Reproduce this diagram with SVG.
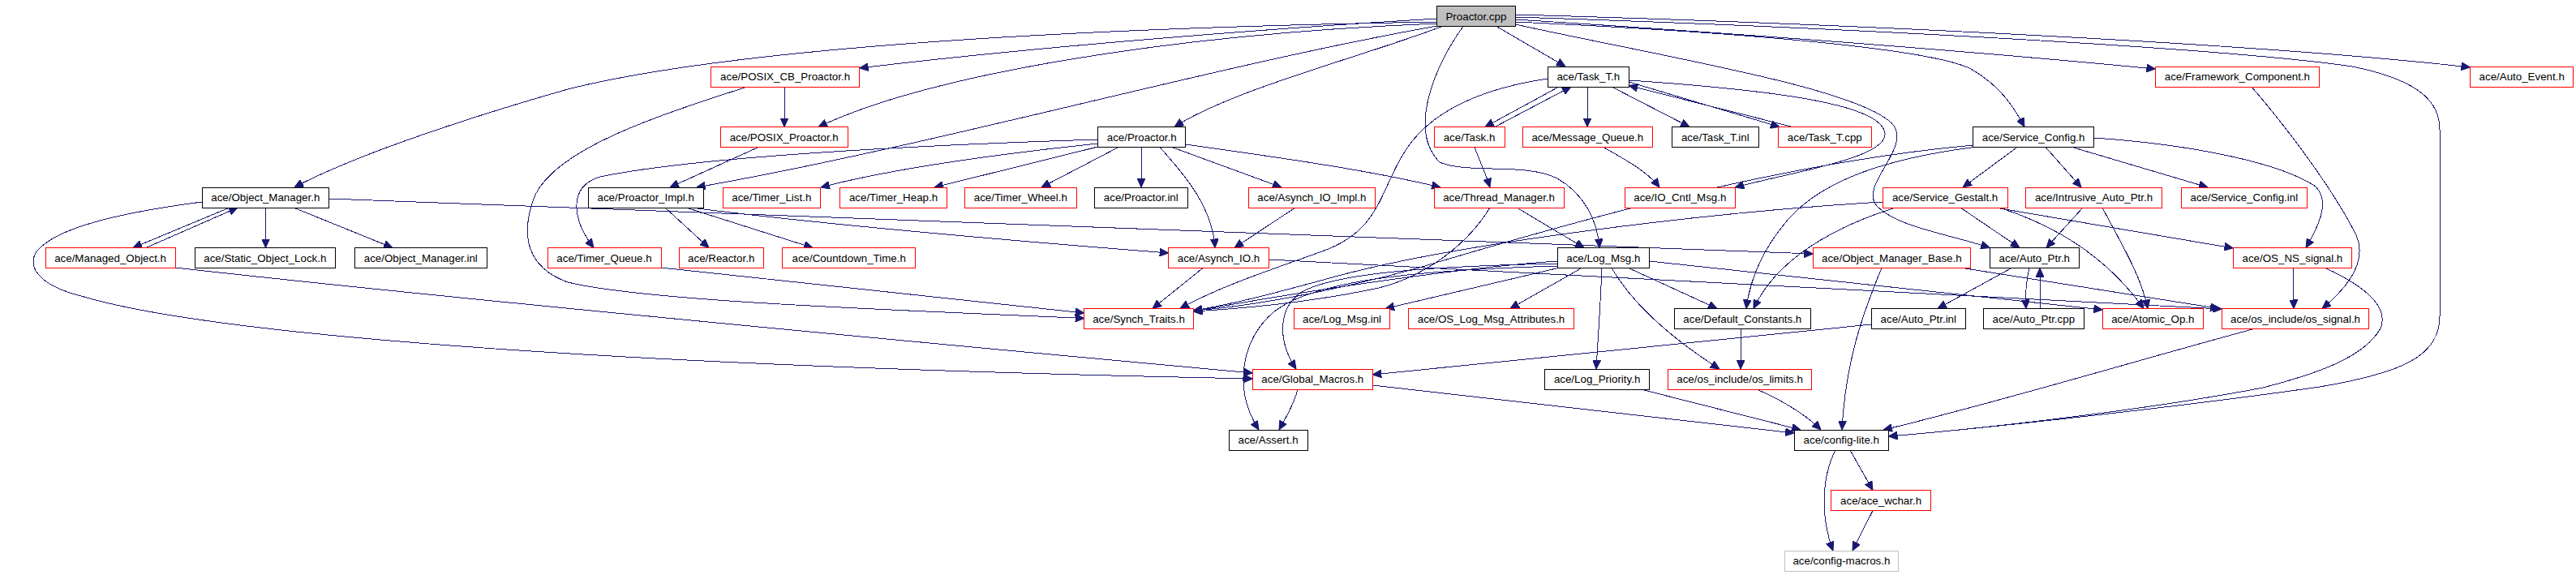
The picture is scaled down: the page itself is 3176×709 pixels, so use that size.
<svg xmlns="http://www.w3.org/2000/svg" width="3176" height="709" viewBox="0 0 3176 709">
<style>
rect{fill:#fff;stroke-width:1;shape-rendering:crispEdges}
.b rect{stroke:#000}
.r rect{stroke:#ff0000}
.g rect{stroke:#bfbfbf}
.root rect{fill:#bfbfbf;stroke:#000}
text{font-family:"Liberation Sans",Arial,Helvetica,sans-serif;font-size:13.33px;text-anchor:middle;fill:#000}
#edges path{fill:none;stroke:#191970;stroke-width:1;shape-rendering:crispEdges;marker-end:url(#ah)}
</style>
<defs>
<marker id="ah" viewBox="0 0 11 10" refX="11" refY="5" markerWidth="11" markerHeight="10" markerUnits="userSpaceOnUse" orient="auto">
<path d="M0,0 L11,5 L0,10 z" fill="#191970" stroke="#191970" stroke-width="1"/>
</marker>
</defs>
<rect x="0" y="0" width="3176" height="709" style="fill:#fff;stroke:none"/>
<g id="edges">
<path d="M1771.4,27 C1300,35 900,60 700,110 C560,150 430,195 363,231"/>
<path d="M1771.4,23 C1600,33 1300,55 1059.7,84"/>
<path d="M1771.4,29 C1450,42 1150,90 1009,156.5"/>
<path d="M1772,32 C1500,80 1150,180 858.7,231"/>
<path d="M1778,32.5 C1680,70 1520,110 1448,156.5"/>
<path d="M1845,32.5 L1930,82"/>
<path d="M1804,32.5 C1770,80 1735,160 1775,200 C1810,215 1880,200 1920,220 C1955,240 1970,275 1972,305.5"/>
<path d="M1868.3,18 C2300,30 2800,55 3045.5,83"/>
<path d="M1868.3,21 C2300,35 2750,60 2900,82 C2990,100 3008,130 3008,160 L3008,390 C3008,440 2960,460 2860,477 C2700,500 2450,528 2328.6,538"/>
<path d="M1868.3,24 C2200,45 2450,65 2657.4,85"/>
<path d="M1868.3,27 C2150,40 2380,60 2430,85 C2465,105 2482,130 2496,156.5"/>
<path d="M1868.3,30 C2050,70 2300,110 2335,155 C2355,185 2290,230 2315,255 C2340,280 2400,288 2453.3,305.5"/>
<path d="M1922,107 L1831,156.5"/>
<path d="M1843,156.5 L1937,107"/>
<path d="M1957,107 L1957,156.5"/>
<path d="M1987,107 L2083,156.5"/>
<path d="M2008.3,101 L2194,156.5"/>
<path d="M2210,156.5 L2008.3,105.5"/>
<path d="M2008.3,99 C2200,112 2322,130 2324,165 C2326,195 2210,212 2139.3,231"/>
<path d="M1908.3,97 C1820,110 1760,140 1730,190 C1700,240 1700,285 1630,310 C1560,335 1500,355 1455,380.5"/>
<path d="M1818,181.5 C1825,200 1832,215 1837,231"/>
<path d="M1977,181.5 C2000,195 2030,210 2046,231"/>
<path d="M1353.6,172 C1100,180 850,195 740,218 C700,230 705,270 732,305.5"/>
<path d="M1353.6,177 C1230,190 1100,208 1012,231"/>
<path d="M1353.6,181 L1152,231"/>
<path d="M1379,181.5 L1284,231"/>
<path d="M1407,181.5 L1407,231"/>
<path d="M1430,181.5 C1460,215 1495,255 1498,305.5"/>
<path d="M1445,181.5 L1580,231"/>
<path d="M1461.7,178 C1560,192 1680,208 1776,231"/>
<path d="M967,107 L967,156.5"/>
<path d="M921,107 C820,140 690,180 660,240 C640,290 650,330 700,348 C800,372 1100,382 1336.7,392.5"/>
<path d="M935,181.5 L826,231"/>
<path d="M820,256 L874,305.5"/>
<path d="M846,256 L1002,305.5"/>
<path d="M852,256 C1000,275 1250,297 1440.7,312"/>
<path d="M283,256 L164,305.5"/>
<path d="M180,305.5 L293,256"/>
<path d="M327.5,256 L327.5,305.5"/>
<path d="M362,256 L484,305.5"/>
<path d="M249,249 C150,262 70,280 45,310 C30,335 60,355 100,365 C250,410 700,450 1544.4,467"/>
<path d="M405.6,245 L2235.3,313"/>
<path d="M216.3,330 C500,362 1000,410 1544.4,460"/>
<path d="M815,330 L1336.7,386"/>
<path d="M1597,256 L1522,305.5"/>
<path d="M1483,330.5 L1421,380.5"/>
<path d="M1564.3,320 L2739.3,381"/>
<path d="M1870,256 L1953,305.5"/>
<path d="M1837,256 C1810,300 1760,340 1700,355 C1620,372 1540,380 1471.3,384"/>
<path d="M1920.3,322 C1800,330 1600,360 1471.3,384"/>
<path d="M1920.3,325 C1780,328 1650,335 1605,360 C1575,380 1575,420 1598,455"/>
<path d="M1920.3,328 C1750,333 1620,345 1570,385 C1530,420 1520,480 1552,530"/>
<path d="M1921,330.5 L1708,380.5"/>
<path d="M1950,330.5 L1862,380.5"/>
<path d="M1975,330.5 C1973,380 1970,420 1968,455"/>
<path d="M1987,330.5 C2010,370 2050,410 2120,455"/>
<path d="M2008,330.5 L2117,380.5"/>
<path d="M2033.3,322 L2592.3,382"/>
<path d="M2321,249 C2100,262 1800,300 1650,340 C1570,362 1520,375 1471.3,383"/>
<path d="M2417,256 L2490,305.5"/>
<path d="M2460,256 L2753.3,306"/>
<path d="M2465,256 C2540,280 2600,320 2643,380.5"/>
<path d="M2337,256 C2260,280 2190,320 2162,380.5"/>
<path d="M2487,181.5 L2420,231"/>
<path d="M2522,181.5 L2566,231"/>
<path d="M2555,181.5 L2722,231"/>
<path d="M2581.5,170 C2700,178 2810,200 2855,230 C2875,250 2855,285 2843,305.5"/>
<path d="M2434,181.5 C2330,195 2250,220 2205,270 C2175,305 2158,340 2153,380.5"/>
<path d="M2433,179 C2200,200 1950,270 1750,330 C1640,360 1540,378 1471.3,383"/>
<path d="M2568,256 L2523,305.5"/>
<path d="M2592,256 C2615,300 2640,340 2648,380.5"/>
<path d="M2320,330.5 C2295,390 2275,450 2271,530"/>
<path d="M2420,330.5 L2736,380.5"/>
<path d="M2480,330.5 L2389,380.5"/>
<path d="M2502,330.5 C2497,350 2497,365 2498,380.5"/>
<path d="M2515,380.5 C2515,365 2515,350 2515,330.5"/>
<path d="M2307.3,400 L1692.3,462"/>
<path d="M2827,330.5 L2828,380.5"/>
<path d="M2867,330.5 C2920,355 2945,380 2935,405 C2915,440 2860,460 2790,478 C2650,505 2450,528 2328.6,538"/>
<path d="M2776,107 C2830,170 2880,240 2905,290 C2918,320 2900,350 2863,380.5"/>
<path d="M2779,405.5 C2650,440 2450,500 2322,530"/>
<path d="M1600,480 C1595,500 1585,515 1577,530"/>
<path d="M1692.3,475 L2212,534"/>
<path d="M2023,480 L2220,530"/>
<path d="M2166,480 C2200,495 2225,510 2245,530"/>
<path d="M2147,405.5 L2146,455"/>
<path d="M2281,555 L2309,604.5"/>
<path d="M2263,555 C2245,590 2245,640 2260,679"/>
<path d="M2309,629.5 L2284,679"/>
</g>
<g id="pc" class="root"><rect x="1771.4" y="7.5" width="96.9" height="25"/><text x="1819.9" y="24.5">Proactor.cpp</text></g>
<g id="posixcb" class="r"><rect x="876.5" y="82" width="183.2" height="25"/><text x="968.1" y="99">ace/POSIX_CB_Proactor.h</text></g>
<g id="taskt" class="b"><rect x="1908.3" y="82" width="100" height="25"/><text x="1958.3" y="99">ace/Task_T.h</text></g>
<g id="fc" class="r"><rect x="2657.4" y="82" width="202" height="25"/><text x="2758.4" y="99">ace/Framework_Component.h</text></g>
<g id="ae" class="r"><rect x="3045.5" y="82" width="127.3" height="25"/><text x="3109.2" y="99">ace/Auto_Event.h</text></g>
<g id="posixp" class="r"><rect x="888" y="156.5" width="157.4" height="25"/><text x="966.7" y="173.5">ace/POSIX_Proactor.h</text></g>
<g id="proh" class="b"><rect x="1353.6" y="156.5" width="108.1" height="25"/><text x="1407.7" y="173.5">ace/Proactor.h</text></g>
<g id="task" class="r"><rect x="1768" y="156.5" width="87" height="25"/><text x="1811.5" y="173.5">ace/Task.h</text></g>
<g id="mq" class="r"><rect x="1877.3" y="156.5" width="160" height="25"/><text x="1957.3" y="173.5">ace/Message_Queue.h</text></g>
<g id="tasktinl" class="b"><rect x="2061.3" y="156.5" width="107" height="25"/><text x="2114.8" y="173.5">ace/Task_T.inl</text></g>
<g id="tasktcpp" class="r"><rect x="2192.3" y="156.5" width="115" height="25"/><text x="2249.8" y="173.5">ace/Task_T.cpp</text></g>
<g id="sc" class="b"><rect x="2432.7" y="156.5" width="148.8" height="25"/><text x="2507.1" y="173.5">ace/Service_Config.h</text></g>
<g id="om" class="b"><rect x="249" y="231" width="156.6" height="25"/><text x="327.3" y="248">ace/Object_Manager.h</text></g>
<g id="pimpl" class="b"><rect x="725.5" y="231" width="141.5" height="25"/><text x="796.2" y="248">ace/Proactor_Impl.h</text></g>
<g id="tl" class="r"><rect x="891" y="231" width="120.7" height="25"/><text x="951.3" y="248">ace/Timer_List.h</text></g>
<g id="th" class="r"><rect x="1035.7" y="231" width="131.6" height="25"/><text x="1101.5" y="248">ace/Timer_Heap.h</text></g>
<g id="tw" class="r"><rect x="1189" y="231" width="138.6" height="25"/><text x="1258.3" y="248">ace/Timer_Wheel.h</text></g>
<g id="pinl" class="b"><rect x="1349.3" y="231" width="115" height="25"/><text x="1406.8" y="248">ace/Proactor.inl</text></g>
<g id="aioimpl" class="r"><rect x="1539.3" y="231" width="156.2" height="25"/><text x="1617.4" y="248">ace/Asynch_IO_Impl.h</text></g>
<g id="tm" class="r"><rect x="1768" y="231" width="160.3" height="25"/><text x="1848.1" y="248">ace/Thread_Manager.h</text></g>
<g id="ioc" class="r"><rect x="2003.3" y="231" width="136" height="25"/><text x="2071.3" y="248">ace/IO_Cntl_Msg.h</text></g>
<g id="sg" class="r"><rect x="2321" y="231" width="154.3" height="25"/><text x="2398.1" y="248">ace/Service_Gestalt.h</text></g>
<g id="iap" class="r"><rect x="2497.7" y="231" width="167.6" height="25"/><text x="2581.5" y="248">ace/Intrusive_Auto_Ptr.h</text></g>
<g id="scinl" class="r"><rect x="2689.3" y="231" width="155" height="25"/><text x="2766.8" y="248">ace/Service_Config.inl</text></g>
<g id="mo" class="r"><rect x="56" y="305.5" width="160.3" height="25"/><text x="136.1" y="322.5">ace/Managed_Object.h</text></g>
<g id="sol" class="b"><rect x="240.3" y="305.5" width="173" height="25"/><text x="326.8" y="322.5">ace/Static_Object_Lock.h</text></g>
<g id="ominl" class="b"><rect x="437.2" y="305.5" width="163.3" height="25"/><text x="518.8" y="322.5">ace/Object_Manager.inl</text></g>
<g id="tq" class="r"><rect x="675" y="305.5" width="140" height="25"/><text x="745" y="322.5">ace/Timer_Queue.h</text></g>
<g id="reactor" class="r"><rect x="837.2" y="305.5" width="104.1" height="25"/><text x="889.2" y="322.5">ace/Reactor.h</text></g>
<g id="ct" class="r"><rect x="964.8" y="305.5" width="163.8" height="25"/><text x="1046.7" y="322.5">ace/Countdown_Time.h</text></g>
<g id="aio" class="r"><rect x="1440.7" y="305.5" width="123.6" height="25"/><text x="1502.5" y="322.5">ace/Asynch_IO.h</text></g>
<g id="lm" class="b"><rect x="1920.3" y="305.5" width="113" height="25"/><text x="1976.8" y="322.5">ace/Log_Msg.h</text></g>
<g id="omb" class="r"><rect x="2235.3" y="305.5" width="194" height="25"/><text x="2332.3" y="322.5">ace/Object_Manager_Base.h</text></g>
<g id="ap" class="b"><rect x="2453.3" y="305.5" width="110" height="25"/><text x="2508.3" y="322.5">ace/Auto_Ptr.h</text></g>
<g id="osns" class="r"><rect x="2753.3" y="305.5" width="146.2" height="25"/><text x="2826.4" y="322.5">ace/OS_NS_signal.h</text></g>
<g id="st" class="r"><rect x="1336.7" y="380.5" width="134.6" height="25"/><text x="1404" y="397.5">ace/Synch_Traits.h</text></g>
<g id="lminl" class="r"><rect x="1595.7" y="380.5" width="117.6" height="25"/><text x="1654.5" y="397.5">ace/Log_Msg.inl</text></g>
<g id="oslma" class="r"><rect x="1736.7" y="380.5" width="203.6" height="25"/><text x="1838.5" y="397.5">ace/OS_Log_Msg_Attributes.h</text></g>
<g id="dc" class="b"><rect x="2064.3" y="380.5" width="168" height="25"/><text x="2148.3" y="397.5">ace/Default_Constants.h</text></g>
<g id="apinl" class="b"><rect x="2307.3" y="380.5" width="116" height="25"/><text x="2365.3" y="397.5">ace/Auto_Ptr.inl</text></g>
<g id="apcpp" class="b"><rect x="2445.3" y="380.5" width="124" height="25"/><text x="2507.3" y="397.5">ace/Auto_Ptr.cpp</text></g>
<g id="ao" class="r"><rect x="2592.3" y="380.5" width="124" height="25"/><text x="2654.3" y="397.5">ace/Atomic_Op.h</text></g>
<g id="ossig" class="r"><rect x="2739.3" y="380.5" width="181.5" height="25"/><text x="2830" y="397.5">ace/os_include/os_signal.h</text></g>
<g id="gm" class="r"><rect x="1544.4" y="455" width="147.9" height="25"/><text x="1618.3" y="472">ace/Global_Macros.h</text></g>
<g id="lp" class="b"><rect x="1904.6" y="455" width="129.1" height="25"/><text x="1969.1" y="472">ace/Log_Priority.h</text></g>
<g id="oslim" class="r"><rect x="2056.6" y="455" width="177.1" height="25"/><text x="2145.1" y="472">ace/os_include/os_limits.h</text></g>
<g id="assert" class="b"><rect x="1515.3" y="530" width="96.7" height="25"/><text x="1563.6" y="547">ace/Assert.h</text></g>
<g id="cl" class="b"><rect x="2212" y="530" width="116.6" height="25"/><text x="2270.3" y="547">ace/config-lite.h</text></g>
<g id="wc" class="r"><rect x="2257.6" y="604.5" width="123" height="25"/><text x="2319.1" y="621.5">ace/ace_wchar.h</text></g>
<g id="cm" class="g"><rect x="2200" y="679" width="140.8" height="25"/><text x="2270.4" y="696">ace/config-macros.h</text></g>
</svg>
